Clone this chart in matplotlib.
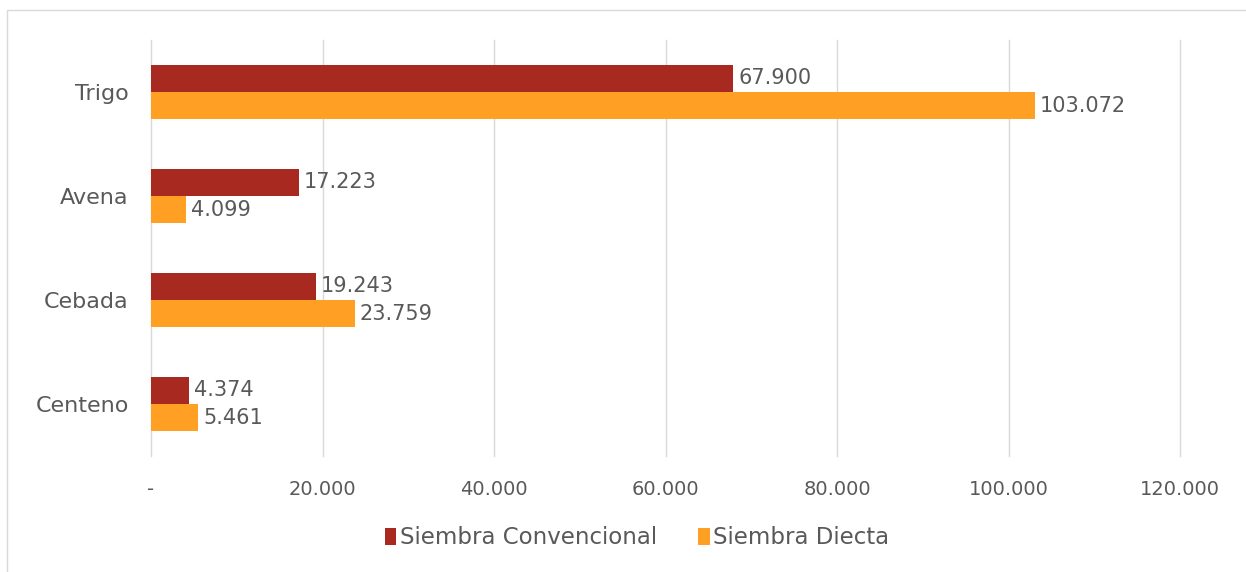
import matplotlib
matplotlib.use("Agg")
import matplotlib.pyplot as plt
import numpy as np
from matplotlib.patches import Rectangle

categories = ["Trigo", "Avena", "Cebada", "Centeno"]
convencional = [67900, 17223, 19243, 4374]
directa = [103072, 4099, 23759, 5461]
series_names = ["Siembra Convencional", "Siembra Diecta"]
xticks = [0, 20000, 40000, 60000, 80000, 100000, 120000]
xtick_labels = ["-", "20.000", "40.000", "60.000", "80.000", "100.000", "120.000"]

def fmt(v):
    return f"{v:,}".replace(",", ".")

plt.rcParams['font.family'] = ['DejaVu Sans']
text_color = "#595959"
c1 = "#A8291F"
c2 = "#FFA024"

fig = plt.figure(figsize=(12.46, 5.72), dpi=100)
# outer chart frame
fig.patches.append(Rectangle((7/1246, -0.1), 1.2, 1 - 10/572 + 0.1, transform=fig.transFigure,
                             fill=False, edgecolor="#D9D9D9", linewidth=1.0))
ax = fig.add_axes([151/1246, 1 - 456/572, (1180 - 151)/1246, (456 - 40)/572])

y = np.arange(len(categories))
h = 0.26
ax.barh(y - h/2, convencional, height=h, color=c1, label=series_names[0], zorder=3)
ax.barh(y + h/2, directa, height=h, color=c2, label=series_names[1], zorder=3)

fs = 15
for yi, v in zip(y, convencional):
    ax.text(v + 600, yi - h/2, fmt(v), va="center", ha="left", fontsize=fs, color=text_color)
for yi, v in zip(y, directa):
    ax.text(v + 600, yi + h/2, fmt(v), va="center", ha="left", fontsize=fs, color=text_color)

ax.set_ylim(len(categories) - 0.5, -0.5)
ax.set_xlim(0, 120000)
ax.set_yticks(y)
ax.set_yticklabels(categories, fontsize=16, color=text_color)
ax.set_xticks(xticks)
ax.set_xticklabels(xtick_labels, fontsize=14, color=text_color)
ax.tick_params(axis="both", length=0)
ax.tick_params(axis="x", pad=17)
ax.tick_params(axis="y", pad=16)
for s in ax.spines.values():
    s.set_visible(False)
ax.grid(axis="x", color="#D9D9D9", linewidth=1.0, zorder=0)
for gl in ax.get_xgridlines():
    gl.set_clip_on(False)
ax.set_axisbelow(True)

leg = fig.legend(loc="center", bbox_to_anchor=(637/1246, 1 - 538/572), ncol=2, frameon=False,
                 fontsize=16.5, handlelength=0.5, handleheight=0.75, handletextpad=0.15,
                 columnspacing=1.8, labelcolor=text_color)

fig.savefig("out.png", dpi=100)
